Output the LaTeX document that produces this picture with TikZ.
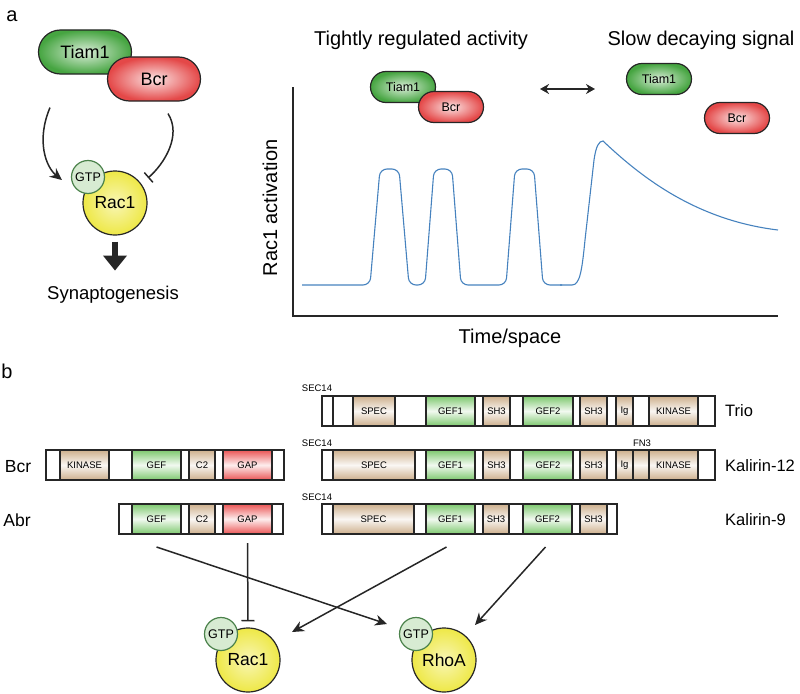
\documentclass[tikz,border=0pt]{standalone}
\usepackage{fontspec}
\setmainfont{Liberation Sans}
\usetikzlibrary{positioning,shapes.misc,arrows.meta}

\definecolor{tiamgreen}{RGB}{70,165,65}
\definecolor{bcrred}{RGB}{228,72,72}
\definecolor{domtan}{RGB}{205,175,140}
\definecolor{gefgreen}{RGB}{125,200,110}
\definecolor{gapred}{RGB}{235,85,85}
\definecolor{racyellow}{RGB}{238,232,70}
\definecolor{gtpgreen}{RGB}{215,235,210}
\definecolor{gtpedge}{RGB}{75,130,75}
\definecolor{curveblue}{RGB}{70,130,190}

\newcommand{\fsz}[1]{\fontsize{#1}{#1}\selectfont}

\begin{document}
\begin{tikzpicture}[x=1pt, y=-1pt,
    pill/.style = {rounded rectangle, draw=black!85, line width=1.2pt, inner sep=0pt},
    bigpill/.style = {pill, minimum width=93pt, minimum height=44pt, font=\fsz{18}},
    smallpill/.style = {pill, minimum width=65pt, minimum height=31pt, font=\fsz{12.5}},
    tiam/.style = {inner color=tiamgreen!20, outer color=tiamgreen},
    bcr/.style = {inner color=bcrred!15, outer color=bcrred},
    gtase/.style = {circle, draw=black!85, line width=1.2pt, minimum size=64pt,
      inner sep=0pt, inner color=racyellow!40, outer color=racyellow, font=\fsz{17.5}},
    gtp/.style = {circle, draw=gtpedge, line width=1.2pt, fill=gtpgreen,
      minimum size=33pt, inner sep=0pt, font=\fsz{12.5}},
    bar/.style = {draw=black!85, line width=1.2pt, fill=white, minimum height=30pt,
      inner sep=0pt, outer sep=0pt},
    dom/.style = {bar, font=\fsz{9.5}},
    whitebox/.style = {fill=white},
    tanbox/.style = {top color=domtan, bottom color=domtan, middle color=domtan!10},
    gefbox/.style = {top color=gefgreen, bottom color=gefgreen, middle color=gefgreen!10},
    gapbox/.style = {top color=gapred, bottom color=gapred, middle color=gapred!10},
    act/.style = {-{Stealth[length=12pt,width=11pt]}, line width=1.5pt, black!85},
    inh/.style = {-{Bar[width=13pt]}, line width=1.5pt, black!85},
    fatarrow/.style = {-{Triangle[width=23pt,length=15pt]}, line width=6pt, black!85},
    lbl/.style = {font=\fsz{20}},
    rowlbl/.style = {font=\fsz{16.5}, inner sep=0pt},
    small/.style = {font=\fsz{9.5}}]
  \useasboundingbox (0,0) rectangle (800,693);

  % panel a, left
  \node[lbl] (alab) at (12,16) {a};
  \node[bigpill, tiam] (tiamA) at (85,52) {Tiam1};
  \node[bigpill, bcr] (bcrA) at (154,79) {Bcr};
  \node[gtase] (racA) at (115,203) {Rac1};
  \node[gtp] (gtpA) at (88,177) {GTP};
  \node[font=\fsz{18.5}] (synap) at (113,295) {Synaptogenesis};
  \draw[act] ([shift={(-35,33)}]tiamA.south) .. controls +(-14,33) and +(-16,-13) .. ([shift={(-9,3)}]gtpA.west);
  \draw[inh] ([shift={(14,12)}]bcrA.south) .. controls +(14,22) and +(16,-14) .. ([shift={(10,-2)}]racA.north east);
  \draw[fatarrow] ([yshift=-6pt]racA.south) -- ++(0,29);

  % panel a, right
  \node[lbl] (tight) at (421,40) {Tightly regulated activity};
  \node[lbl] (slow) at (701,40) {Slow decaying signal};
  \node[smallpill, tiam] (tiamS) at (403,87) {Tiam1};
  \node[smallpill, bcr] (bcrS) at (451,107) {Bcr};
  \node[smallpill, tiam] (tiamF) at (659,79) {Tiam1};
  \node[smallpill, bcr] (bcrF) at (737,118) {Bcr};
  \coordinate (swapL) at (540,89);
  \coordinate (swapR) at (595,89);
  \draw[{Stealth[length=9pt,width=10pt]}-{Stealth[length=9pt,width=10pt]}, line width=1.8pt, black!85] (swapL) -- (swapR);
  \draw[line width=1.6pt, black!85] (293,87) -- (293,316) -- (778,316);
  \node[lbl, rotate=90] (ylab) at (270,208) {Rac1 activation};
  \node[lbl] (xlab) at (510,338) {Time/space};
  \draw[curveblue, line width=1.1pt, rounded corners=7pt]
    (302,285) -- (370,285) -- (380,169) -- (399,169) -- (409,285)
    -- (425,285) -- (434,169) -- (452,169) -- (461,285)
    -- (506,285) -- (515,169) -- (534,169) -- (543,285) -- (562,285);
  \draw[curveblue, line width=1.1pt] (560,285) -- (572,285)
    .. controls (580,285) and (582,270) .. (585,240) -- (594,160)
    .. controls (596,146) and (599,141) .. (603,141)
    .. controls (640,176) and (695,220) .. (778,230);

  % panel b
  \node[lbl] (blab) at (7,371) {b};
  \node[small] (sec1) at (317,388) {SEC14};
  \node[small] (sec2) at (317,443) {SEC14};
  \node[small] (sec3) at (317,497) {SEC14};
  \node[small] (fn3) at (642,443) {FN3};

  \node[bar, minimum width=393pt] (triobar) at (518.5,411) {};
  \foreach \xa/\xb/\kind/\lab [count=\i] in {322/333/whitebox/{}, 353/395/tanbox/SPEC,
      426/475/gefbox/GEF1, 483/510/tanbox/SH3, 523/573/gefbox/GEF2, 580/607/tanbox/SH3,
      616/633/tanbox/Ig, 649/698/tanbox/KINASE}
    {\pgfmathsetmacro\segw{\xb-\xa}\pgfmathsetmacro\segx{(\xa+\xb)/2}
     \node[dom, \kind, minimum width=\segw pt] (trio\i) at (\segx,411) {\lab};}
  \node[bar, minimum width=393pt] (kaltwbar) at (518.5,465) {};
  \foreach \xa/\xb/\kind/\lab [count=\i] in {322/333/whitebox/{}, 333/415/tanbox/SPEC,
      426/475/gefbox/GEF1, 483/510/tanbox/SH3, 523/573/gefbox/GEF2, 580/607/tanbox/SH3,
      616/633/tanbox/Ig, 633/649/tanbox/{}, 649/698/tanbox/KINASE}
    {\pgfmathsetmacro\segw{\xb-\xa}\pgfmathsetmacro\segx{(\xa+\xb)/2}
     \node[dom, \kind, minimum width=\segw pt] (kaltw\i) at (\segx,465) {\lab};}
  \node[bar, minimum width=295pt] (kalninebar) at (469.5,519) {};
  \foreach \xa/\xb/\kind/\lab [count=\i] in {322/333/whitebox/{}, 333/414/tanbox/SPEC,
      426/475/gefbox/GEF1, 483/509/tanbox/SH3, 523/572/gefbox/GEF2, 580/607/tanbox/SH3}
    {\pgfmathsetmacro\segw{\xb-\xa}\pgfmathsetmacro\segx{(\xa+\xb)/2}
     \node[dom, \kind, minimum width=\segw pt] (kalnine\i) at (\segx,519) {\lab};}
  \node[bar, minimum width=238pt] (bcrbar) at (165,465) {};
  \foreach \xa/\xb/\kind/\lab [count=\i] in {60/109/tanbox/KINASE, 132/181/gefbox/GEF,
      189/215/tanbox/C2, 223/272/gapbox/GAP}
    {\pgfmathsetmacro\segw{\xb-\xa}\pgfmathsetmacro\segx{(\xa+\xb)/2}
     \node[dom, \kind, minimum width=\segw pt] (bcr\i) at (\segx,465) {\lab};}
  \node[bar, minimum width=164pt] (abrbar) at (201,519) {};
  \foreach \xa/\xb/\kind/\lab [count=\i] in {132/181/gefbox/GEF,
      189/215/tanbox/C2, 223/272/gapbox/GAP}
    {\pgfmathsetmacro\segw{\xb-\xa}\pgfmathsetmacro\segx{(\xa+\xb)/2}
     \node[dom, \kind, minimum width=\segw pt] (abr\i) at (\segx,519) {\lab};}

  \node[rowlbl, anchor=west] (trio) at (725,411) {Trio};
  \node[rowlbl, anchor=west] (kaltw) at (725,466) {Kalirin-12};
  \node[rowlbl, anchor=west] (kalnine) at (725,520) {Kalirin-9};
  \node[rowlbl, font=\fsz{17.5}] (bcr) at (18,467) {Bcr};
  \node[rowlbl, font=\fsz{17.5}] (abr) at (17,520) {Abr};

  \node[gtase] (racB) at (248,660) {Rac1};
  \node[gtp] (gtpB) at (221,634) {GTP};
  \node[gtase] (rhoB) at (444,660) {RhoA};
  \node[gtp] (gtpC) at (416,634) {GTP};
  \coordinate (toRhoA) at (387,624);
  \coordinate (toRac) at (292,632);
  \coordinate (toRhoB) at (475,625);
  \draw[act] ([yshift=-13pt]abr1.south) -- (toRhoA);
  \draw[inh] ([yshift=-9pt]abr3.south) -- ([yshift=6pt]racB.north);
  \draw[act] ([shift={(-4,13)}]kalnine3.south) -- (toRac);
  \draw[act] ([shift={(-2,13)}]kalnine5.south) -- (toRhoB);
\end{tikzpicture}
\end{document}
